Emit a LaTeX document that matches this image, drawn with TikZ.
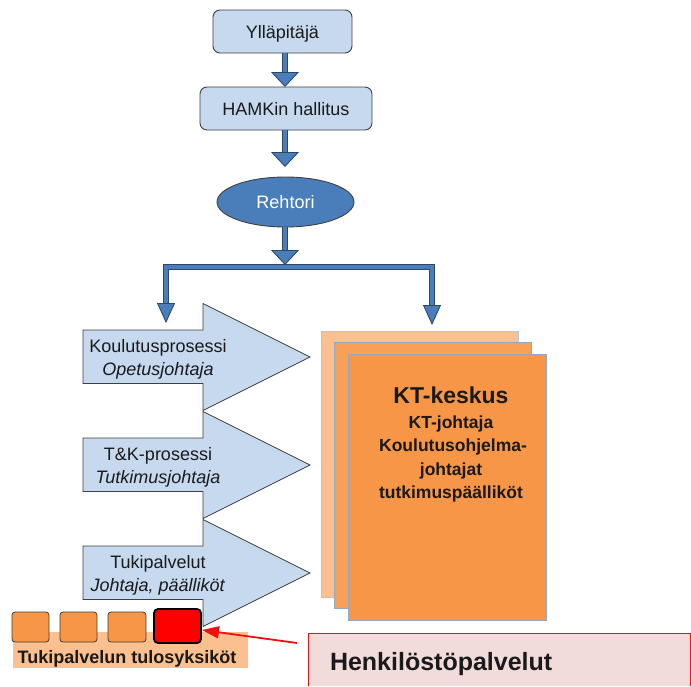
\documentclass[tikz,border=0pt]{standalone}
\usepackage{fontspec}
\setmainfont{Liberation Sans}
\usetikzlibrary{arrows.meta,shapes.geometric}

\definecolor{boxblue}{HTML}{C6D9EE}
\definecolor{boxline}{HTML}{3F3F3F}
\definecolor{rehtoriblue}{HTML}{4A7EBB}
\definecolor{flowblue}{HTML}{4A7EBB}
\definecolor{flowedge}{HTML}{2E4866}
\definecolor{kporange}{HTML}{F79646}
\definecolor{kplight}{HTML}{FAC090}
\definecolor{kpmid}{HTML}{F89F58}
\definecolor{sheetline}{HTML}{8FA9C9}
\definecolor{sheetlight}{HTML}{AFC5E0}
\definecolor{hrpink}{HTML}{F2DCDB}
\definecolor{hrred}{HTML}{F01010}
\definecolor{ink}{HTML}{1A1A1A}

\begin{document}
\begin{tikzpicture}[x=1pt,y=-1pt,
  every node/.style={inner sep=0pt, outer sep=0pt, text=ink},
  reg/.style={font=\fontsize{18}{23}\selectfont},
  orgbox/.style={draw=boxline, fill=boxblue, line width=0.9pt,
    rounded corners=7pt, reg, text height=13pt, text depth=0pt},
  leader/.style={draw=boxline, fill=rehtoriblue, line width=0.9pt,
    ellipse, reg, text=white, text height=13pt, text depth=0pt},
  flowline/.style={preaction={draw=flowedge, line width=5.4pt, arrows=-,
      shorten >=#1}, draw=flowblue, line width=3.4pt, line join=miter},
  bigtip/.style={-{Triangle[width=28pt,length=15pt,fill=flowblue,
      color=flowedge,line width=0.9pt]}},
  smalltip/.style={-{Triangle[width=18pt,length=20pt,fill=flowblue,
      color=flowedge,line width=0.9pt]}},
  process/.style={draw=boxline, fill=boxblue, line width=0.8pt},
  sheet/.style={draw=sheetline, line width=0.9pt, minimum width=197pt,
    minimum height=266pt},
  unit/.style={draw=boxline, fill=kporange, line width=0.8pt,
    rounded corners=3pt, minimum width=37pt, minimum height=30pt},
  ktline/.style={font=\fontsize{17.5}{23}\selectfont\bfseries, anchor=base},
]
\useasboundingbox (0,0) rectangle (691,686);

% --- management chain ---
\node[orgbox, minimum width=139pt, minimum height=43pt] (ylla) at (282.5,31.5) {Ylläpitäjä};
\node[orgbox, minimum width=172pt, minimum height=43pt] (hamk) at (286,108.5) {HAMKin hallitus};
\node[leader, minimum width=137pt, minimum height=50pt] (rehtori) at (285.5,202) {Rehtori};

\coordinate (jn) at (285,267);
\coordinate (kpTip) at (166,323);
\coordinate (ktTip) at (432,325);

\draw[flowline=10pt, bigtip] (ylla.south -| jn) -- (hamk.north -| jn);
\draw[flowline=10pt, bigtip] (hamk.south -| jn) -- ([yshift=10pt]rehtori.north -| jn);
\draw[flowline=16pt, smalltip] (jn) -| (kpTip);
\draw[flowline=16pt, smalltip] (jn) -| (ktTip);
\draw[flowline=10pt, bigtip] (rehtori.south -| jn) -- ([yshift=2pt]jn);

% --- process arrows ---
\draw[process] (83,330) -- (203,330) -- (203,303.5) -- (310,357) -- (203,410.5)
  -- (203,383.5) -- (83,383.5) -- cycle;
\draw[process] (83,438) -- (203,438) -- (203,411.5) -- (310,465) -- (203,518.5)
  -- (203,491.5) -- (83,491.5) -- cycle;
\draw[process] (83,546) -- (203,546) -- (203,519.5) -- (310,573) -- (203,626.5)
  -- (203,599.5) -- (83,599.5) -- cycle;

\node[reg, anchor=base] (kp1) at (158,352.5) {Koulutusprosessi};
\node[reg, anchor=base] (kp2) at (158,375.5) {\textit{Opetusjohtaja}};
\node[reg, anchor=base] (tk1) at (158,460.5) {T\&K-prosessi};
\node[reg, anchor=base] (tk2) at (158,483.5) {\textit{Tutkimusjohtaja}};
\node[reg, anchor=base] (tp1) at (158,568.5) {Tukipalvelut};
\node[reg, anchor=base] (tp2) at (158,591.5) {\textit{Johtaja, päälliköt}};

% --- KT-keskus sheets ---
\node[sheet, draw=sheetlight, fill=kplight] (ktback) at (419.5,464) {};
\node[sheet, fill=kpmid] (ktmid) at (432.5,475.5) {};
\node[sheet, fill=kporange, minimum width=198pt] (ktfront) at (447,487) {};

\node[font=\fontsize{23}{28}\selectfont\bfseries, anchor=base] (kt0) at (451,403) {KT-keskus};
\node[ktline] (kt1) at (451,428.5) {KT-johtaja};
\node[ktline] (kt2) at (453,451.5) {Koulutusohjelma-};
\node[ktline] (kt3) at (451,475) {johtajat};
\node[ktline] (kt4) at (451,498.5) {tutkimuspäälliköt};

% --- support units ---
\fill[kplight] (13,632) rectangle (248,668);
\node[unit] (u1) at (30.5,627) {};
\node[unit] (u2) at (78.5,627) {};
\node[unit, minimum width=38pt] (u3) at (127,627) {};
\node[unit, draw=black, fill=red, line width=1.8pt, rounded corners=4pt,
  minimum width=47pt, minimum height=34pt] (hr) at (177.5,626) {};
\node[font=\fontsize{18}{22}\selectfont\bfseries, anchor=base] (units) at (127,663)
  {Tukipalvelun tulosyksiköt};

% --- HR callout ---
\fill[hrpink] (308,633) rectangle (690,686);
\draw[hrred, line width=0.8pt] (308,686) -- (308,633) -- (690,633) -- (690,686);
\node[font=\fontsize{25}{30}\selectfont\bfseries, anchor=base west] (hp) at (330,670)
  {Henkilöstöpalvelut};
\coordinate (hpTail) at (297,643);
\coordinate (hpTip) at (202,630);
\draw[hrred, line width=1.8pt, -{Triangle[width=12pt,length=17pt]}] (hpTail) -- (hpTip);
\end{tikzpicture}
\end{document}
